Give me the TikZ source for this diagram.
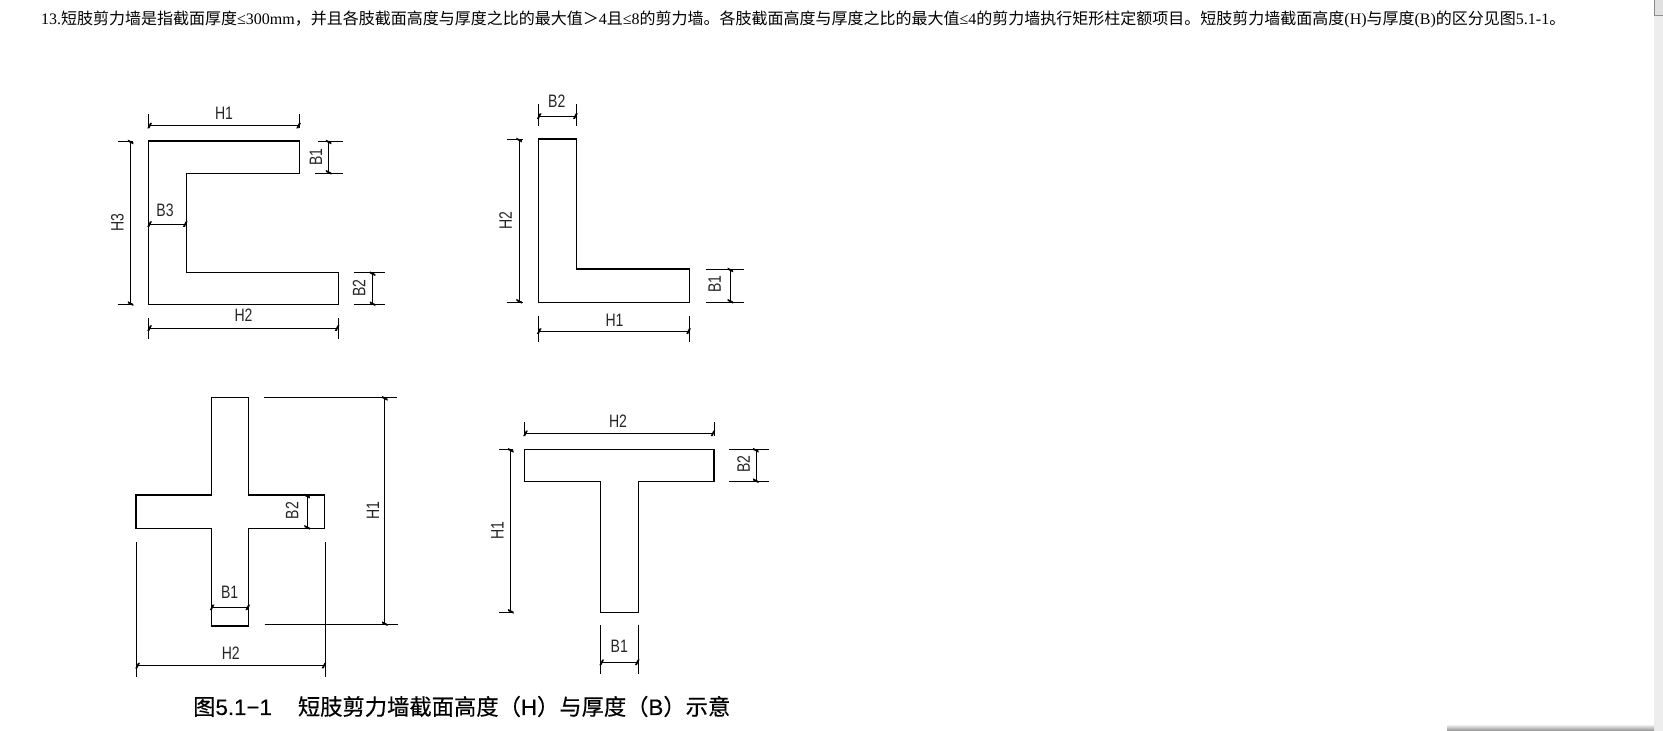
\documentclass[tikz,border=0pt]{standalone}
\usepackage{fontspec}
\setmainfont{Liberation Serif}
\setsansfont{Liberation Sans}
\newfontfamily\cjk{Noto Sans CJK SC}
\newfontfamily\cjkcap[FakeBold=.35]{Noto Sans CJK SC}
\newfontfamily\latincap[FakeBold=.35]{Liberation Sans}
\usetikzlibrary{arrows.meta}
\tikzset{
wall/.style={line width=1.1pt, line join=miter},
dimline/.style={line width=.8pt, {Bar[width=5.5pt,line width=2pt,slant=.5]}-{Bar[width=5.5pt,line width=2pt,slant=.5]}},
extline/.style={line width=.7pt},
dimlabel/.style={inner sep=0, font=\sffamily\fontsize{18}{18}\selectfont, xscale=.78, text=black!85},
dimlabelv/.style={inner sep=0, font=\sffamily\fontsize{18}{18}\selectfont, rotate=90, xscale=.78, text=black!85},
}
\begin{document}
\begin{tikzpicture}[x=1pt,y=-1pt]
\useasboundingbox (0,0) rectangle (1663,731);
\fill[black!7] (1654,0) rectangle (1663,731);
\draw[fill=black!12, draw=black!45, line width=.6pt] (1654,-1) rectangle (1664,15.5);
\shade[top color=white, bottom color=black!45] (1447,724) rectangle (1654,731);
\node[inner sep=0, anchor=west, font=\fontsize{16}{16}\selectfont] (intro) at (41,19){13.{\cjk 短肢剪力墙是指截面厚度}≤300mm{\cjk ，并且各肢截面高度与厚度之比的最大值＞}4{\cjk 且}≤8{\cjk 的剪力墙。各肢截面高度与厚度之比的最大值}≤4{\cjk 的剪力墙执行矩形柱定额项目。短肢剪力墙截面高度}(H){\cjk 与厚度}(B){\cjk 的区分见图}5.1-1{\cjk 。}};
\node[inner sep=0, anchor=west, font=\latincap\fontsize{22.3}{23}\selectfont] (caption) at (193,706.5){{\cjkcap 图}5.1−1\hspace{26pt}{\cjkcap 短肢剪力墙截面高度（}H{\cjkcap ）与厚度（}B{\cjkcap ）示意}};
\draw[wall] (148.7,141) -- (299.6,141) -- (299.6,173.3) -- (186.3,173.3) -- (186.3,272.7) -- (338.2,272.7) -- (338.2,304.7) -- (148.7,304.7) -- cycle;
\coordinate (cH1a) at (148.7,125.7);
\coordinate (cH1b) at (299.6,125.7);
\draw[dimline](cH1a) -- (cH1b);
\coordinate (cH1c) at (148.7,114);
\coordinate (cH1d) at (148.7,127.6);
\coordinate (cH1e) at (299.6,114);
\coordinate (cH1f) at (299.6,127.6);
\draw[extline](cH1c) -- (cH1d);
\draw[extline](cH1e) -- (cH1f);
\node[dimlabel] (cH1t) at (224,113){H1};
\coordinate (cB1a) at (328.7,141);
\coordinate (cB1b) at (328.7,173.3);
\draw[dimline](cB1a) -- (cB1b);
\coordinate (cB1c) at (318,141);
\coordinate (cB1d) at (342.5,141);
\coordinate (cB1e) at (315,173.3);
\coordinate (cB1f) at (342.5,173.3);
\draw[extline](cB1c) -- (cB1d);
\draw[extline](cB1e) -- (cB1f);
\node[dimlabelv] (cB1t) at (316,157){B1};
\coordinate (cH3a) at (130.7,141);
\coordinate (cH3b) at (130.7,304.7);
\draw[dimline](cH3a) -- (cH3b);
\coordinate (cH3c) at (117.5,141);
\coordinate (cH3d) at (133,141);
\coordinate (cH3e) at (117.5,304.7);
\coordinate (cH3f) at (133,304.7);
\draw[extline](cH3c) -- (cH3d);
\draw[extline](cH3e) -- (cH3f);
\node[dimlabelv] (cH3t) at (117.5,222.7){H3};
\coordinate (cB3a) at (148.7,224);
\coordinate (cB3b) at (186.3,224);
\draw[dimline](cB3a) -- (cB3b);
\node[dimlabel] (cB3t) at (165,210){B3};
\coordinate (cH2a) at (148.7,328);
\coordinate (cH2b) at (338.2,328);
\draw[dimline](cH2a) -- (cH2b);
\coordinate (cH2c) at (148.7,318);
\coordinate (cH2d) at (148.7,339);
\coordinate (cH2e) at (338.2,318);
\coordinate (cH2f) at (338.2,339);
\draw[extline](cH2c) -- (cH2d);
\draw[extline](cH2e) -- (cH2f);
\node[dimlabel] (cH2t) at (243.5,315.7){H2};
\coordinate (cB2a) at (372.6,272.7);
\coordinate (cB2b) at (372.6,304.7);
\draw[dimline](cB2a) -- (cB2b);
\coordinate (cB2c) at (353.6,272.7);
\coordinate (cB2d) at (385,272.7);
\coordinate (cB2e) at (353.6,304.7);
\coordinate (cB2f) at (385,304.7);
\draw[extline](cB2c) -- (cB2d);
\draw[extline](cB2e) -- (cB2f);
\node[dimlabelv] (cB2t) at (359,288){B2};
\draw[wall] (538.3,139) -- (576.4,139) -- (576.4,269) -- (689.7,269) -- (689.7,302.3) -- (538.3,302.3) -- cycle;
\coordinate (lB2a) at (538.3,116);
\coordinate (lB2b) at (576.4,116);
\draw[dimline](lB2a) -- (lB2b);
\coordinate (lB2c) at (538.3,104.3);
\coordinate (lB2d) at (538.3,126);
\coordinate (lB2e) at (576.4,104.3);
\coordinate (lB2f) at (576.4,126);
\draw[extline](lB2c) -- (lB2d);
\draw[extline](lB2e) -- (lB2f);
\node[dimlabel] (lB2t) at (556.8,101.7){B2};
\coordinate (lH2a) at (519.2,139);
\coordinate (lH2b) at (519.2,302.3);
\draw[dimline](lH2a) -- (lH2b);
\coordinate (lH2c) at (506.5,139);
\coordinate (lH2d) at (523,139);
\coordinate (lH2e) at (506.5,302.3);
\coordinate (lH2f) at (523,302.3);
\draw[extline](lH2c) -- (lH2d);
\draw[extline](lH2e) -- (lH2f);
\node[dimlabelv] (lH2t) at (505.5,221){H2};
\coordinate (lB1a) at (730.4,269);
\coordinate (lB1b) at (730.4,302.3);
\draw[dimline](lB1a) -- (lB1b);
\coordinate (lB1c) at (705.6,269);
\coordinate (lB1d) at (743.7,269);
\coordinate (lB1e) at (705.6,302.3);
\coordinate (lB1f) at (743.7,302.3);
\draw[extline](lB1c) -- (lB1d);
\draw[extline](lB1e) -- (lB1f);
\node[dimlabelv] (lB1t) at (714.6,284){B1};
\coordinate (lH1a) at (538.3,331);
\coordinate (lH1b) at (689.7,331);
\draw[dimline](lH1a) -- (lH1b);
\coordinate (lH1c) at (538.3,315.7);
\coordinate (lH1d) at (538.3,342.3);
\coordinate (lH1e) at (689.7,315.7);
\coordinate (lH1f) at (689.7,342.3);
\draw[extline](lH1c) -- (lH1d);
\draw[extline](lH1e) -- (lH1f);
\node[dimlabel] (lH1t) at (614.5,320){H1};
\draw[wall] (211.2,397.3) -- (248.8,397.3) -- (248.8,495) -- (324.5,495) -- (324.5,528.3) -- (248.8,528.3) -- (248.8,626) -- (211.2,626) -- (211.2,528.3) -- (136,528.3) -- (136,495) -- (211.2,495) -- cycle;
\coordinate (xH1a) at (384.8,397.3);
\coordinate (xH1b) at (384.8,624.7);
\draw[dimline](xH1a) -- (xH1b);
\coordinate (xH1c) at (263.6,397.3);
\coordinate (xH1d) at (397,397.3);
\coordinate (xH1e) at (264.7,624.7);
\coordinate (xH1f) at (398,624.7);
\draw[extline](xH1c) -- (xH1d);
\draw[extline](xH1e) -- (xH1f);
\node[dimlabelv] (xH1t) at (373,510.7){H1};
\coordinate (xB2a) at (307,495);
\coordinate (xB2b) at (307,528.3);
\draw[dimline](xB2a) -- (xB2b);
\node[dimlabelv] (xB2t) at (292,510.7){B2};
\coordinate (xB1a) at (211.2,607.3);
\coordinate (xB1b) at (248.8,607.3);
\draw[dimline](xB1a) -- (xB1b);
\node[dimlabel] (xB1t) at (229.7,592.7){B1};
\coordinate (xH2a) at (136.6,665.7);
\coordinate (xH2b) at (325,665.7);
\draw[dimline](xH2a) -- (xH2b);
\coordinate (xH2c) at (136.6,542.3);
\coordinate (xH2d) at (136.6,677.3);
\coordinate (xH2e) at (325,542.3);
\coordinate (xH2f) at (325,677.3);
\draw[extline](xH2c) -- (xH2d);
\draw[extline](xH2e) -- (xH2f);
\node[dimlabel] (xH2t) at (230.8,653.3){H2};
\draw[wall] (524.5,449.3) -- (714,449.3) -- (714,481.7) -- (638.3,481.7) -- (638.3,612.3) -- (600.8,612.3) -- (600.8,481.7) -- (524.5,481.7) -- cycle;
\coordinate (tH2a) at (524.5,433.3);
\coordinate (tH2b) at (714,433.3);
\draw[dimline](tH2a) -- (tH2b);
\coordinate (tH2c) at (524.5,422.3);
\coordinate (tH2d) at (524.5,435.7);
\coordinate (tH2e) at (714,422.3);
\coordinate (tH2f) at (714,435.7);
\draw[extline](tH2c) -- (tH2d);
\draw[extline](tH2e) -- (tH2f);
\node[dimlabel] (tH2t) at (618,421.7){H2};
\coordinate (tB2a) at (755.9,449.3);
\coordinate (tB2b) at (755.9,481.7);
\draw[dimline](tB2a) -- (tB2b);
\coordinate (tB2c) at (729.4,449.3);
\coordinate (tB2d) at (769,449.3);
\coordinate (tB2e) at (729.4,481.7);
\coordinate (tB2f) at (769,481.7);
\draw[extline](tB2c) -- (tB2d);
\draw[extline](tB2e) -- (tB2f);
\node[dimlabelv] (tB2t) at (743.7,464){B2};
\coordinate (tH1a) at (510.8,449.3);
\coordinate (tH1b) at (510.8,612.3);
\draw[dimline](tH1a) -- (tH1b);
\coordinate (tH1c) at (499,449.3);
\coordinate (tH1d) at (513.4,449.3);
\coordinate (tH1e) at (499,612.3);
\coordinate (tH1f) at (513.4,612.3);
\draw[extline](tH1c) -- (tH1d);
\draw[extline](tH1e) -- (tH1f);
\node[dimlabelv] (tH1t) at (497.5,531){H1};
\coordinate (tB1a) at (600.8,662.3);
\coordinate (tB1b) at (638.3,662.3);
\draw[dimline](tB1a) -- (tB1b);
\coordinate (tB1c) at (600.8,625.3);
\coordinate (tB1d) at (600.8,674.3);
\coordinate (tB1e) at (638.3,625.3);
\coordinate (tB1f) at (638.3,674.3);
\draw[extline](tB1c) -- (tB1d);
\draw[extline](tB1e) -- (tB1f);
\node[dimlabel] (tB1t) at (619.3,646.7){B1};
\end{tikzpicture}
\end{document}
